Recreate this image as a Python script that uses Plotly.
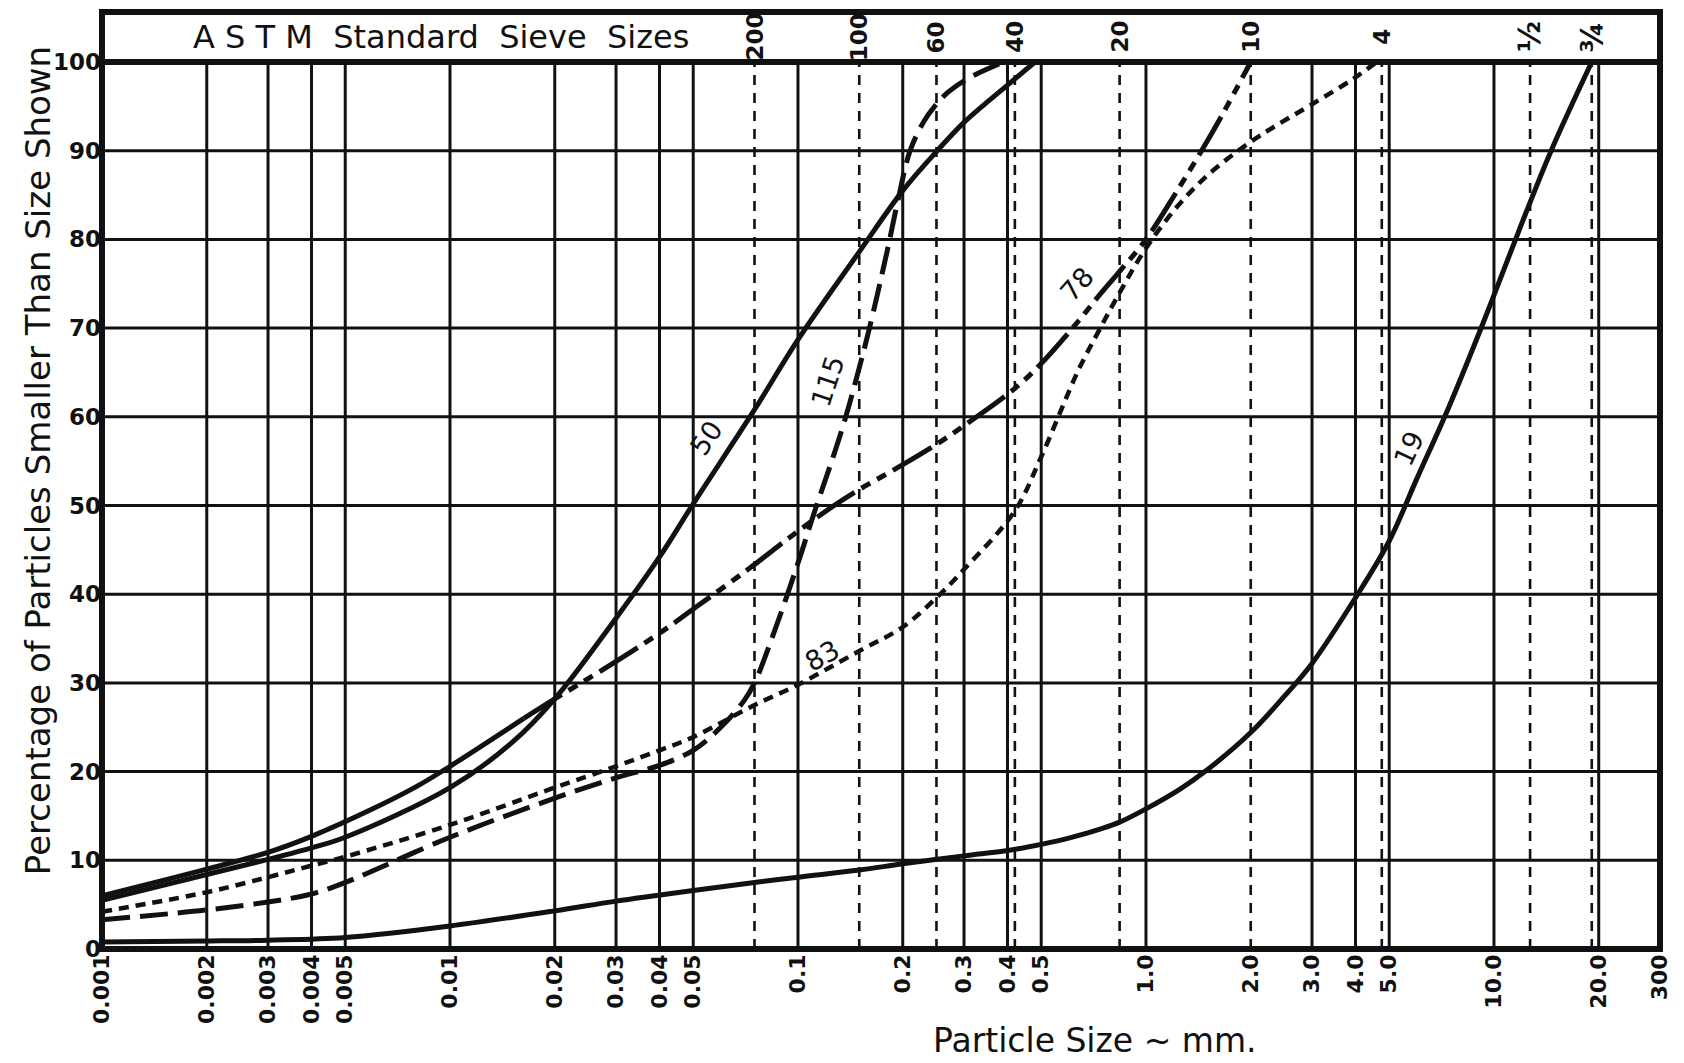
import numpy as np
import plotly.graph_objects as go

# ---------------- data (particle size in mm, percent finer) ----------------
SIZE_19 = [0.001, 0.002, 0.003, 0.005, 0.01, 0.02, 0.03, 0.05, 0.075, 0.1, 0.15, 0.2, 0.3, 0.4, 0.5,
           0.6, 0.75, 0.84, 1.0, 1.25, 1.5, 2.0, 2.5, 3.0, 4.0, 5.0, 6.0, 7.4, 9.4, 11.8, 14.6, 19.1]
PCT_19 = [0.8, 0.9, 1.0, 1.3, 2.6, 4.3, 5.4, 6.6, 7.5, 8.1, 8.9, 9.6, 10.5, 11.1, 11.8,
          12.5, 13.6, 14.3, 15.8, 18.0, 20.2, 24.4, 28.5, 32.2, 39.6, 46.0, 53.0, 61.0, 71.0, 81.0, 90.0, 100]

SIZE_50 = [0.001, 0.002, 0.003, 0.004, 0.005, 0.01, 0.015, 0.02, 0.03, 0.04, 0.05, 0.075, 0.1,
           0.15, 0.2, 0.25, 0.3, 0.4, 0.48]
PCT_50 = [5.5, 8.4, 10.1, 11.4, 12.6, 18.2, 23.2, 28.2, 37.3, 44.2, 50.2, 60.8, 68.7,
          78.6, 85.5, 89.9, 93.2, 97.4, 100]

SIZE_115 = [0.001, 0.002, 0.003, 0.004, 0.005, 0.01, 0.02, 0.03, 0.04, 0.05, 0.06, 0.07, 0.075,
            0.085, 0.1, 0.112, 0.125, 0.136, 0.146, 0.16, 0.18, 0.194, 0.21, 0.23, 0.247, 0.27, 0.31, 0.39]
PCT_115 = [3.3, 4.4, 5.3, 6.2, 7.5, 12.6, 17.0, 19.3, 20.7, 22.4, 25.0, 28.0, 30.0,
           35.5, 43.5, 49.5, 55.0, 59.5, 63.8, 69.8, 78.5, 84.5, 90.0, 93.3, 95.0, 96.6, 98.2, 100]

SIZE_83 = [0.001, 0.002, 0.003, 0.004, 0.005, 0.01, 0.02, 0.03, 0.04, 0.05, 0.075, 0.1, 0.15, 0.2,
           0.25, 0.3, 0.42, 0.5, 0.64, 0.73, 0.84, 1.0, 1.23, 1.53, 2.0, 2.38, 2.96, 3.94, 4.6]
PCT_83 = [4.2, 6.4, 8.1, 9.4, 10.4, 14.0, 18.2, 20.6, 22.4, 23.9, 27.5, 29.8, 33.6, 36.3,
          39.6, 42.8, 49.4, 55.5, 65.3, 69.6, 74, 79, 83.7, 87.5, 91, 92.9, 95.1, 98.1, 100]

SIZE_78 = [0.001, 0.002, 0.003, 0.004, 0.006, 0.008, 0.01, 0.0163, 0.02, 0.027, 0.04, 0.052, 0.073,
           0.0976, 0.127, 0.15, 0.2, 0.25, 0.3, 0.42, 0.5, 0.64, 0.72, 0.84, 1.0, 1.23, 1.47, 1.67, 2.0]
PCT_78 = [6.0, 9.0, 10.9, 12.7, 15.8, 18.3, 20.6, 26.0, 28.2, 31.3, 35.6, 38.8, 43.0,
          46.8, 50.0, 51.8, 54.6, 56.9, 59.0, 63.2, 66.0, 70.8, 73.3, 76.4, 80, 85.5, 90.5, 94.3, 100]
SOLID_END_78 = 8  # first 8 points of curve 78 drawn solid

CURVE_LABELS = ["50", "115", "78", "83", "19"]
LABEL_SIZE = [0.0543, 0.1216, 0.632, 0.1175, 5.70]
LABEL_PCT = [57.6, 64.0, 74.9, 33.1, 56.4]
LABEL_ANGLE = [-56, -72, -48, -29, -65]

GRID_X = [0.002, 0.003, 0.004, 0.005, 0.01, 0.02, 0.03, 0.04, 0.05, 0.1, 0.2, 0.3, 0.4, 0.5,
          1.0, 3.0, 4.0, 5.0, 10.0, 20.0]
GRID_Y = [10, 20, 30, 40, 50, 60, 70, 80, 90]
SIEVE_MM = [0.075, 0.15, 0.25, 0.42, 0.84, 2.0, 4.76, 12.7, 19.1]
SIEVE_LABELS = ["200", "100", "60", "40", "20", "10", "4", "½", "¾"]

X_TICKVALS = [0.001, 0.002, 0.003, 0.004, 0.005, 0.01, 0.02, 0.03, 0.04, 0.05, 0.1, 0.2, 0.3, 0.4,
              0.5, 1.0, 2.0, 3.0, 4.0, 5.0, 10.0, 20.0, 30.0]
X_TICKTEXT = ["0.001", "0.002", "0.003", "0.004", "0.005", "0.01", "0.02", "0.03", "0.04", "0.05",
              "0.1", "0.2", "0.3", "0.4", "0.5", "1.0", "2.0", "3.0", "4.0", "5.0", "10.0", "20.0", "300"]
Y_TICKVALS = [0, 10, 20, 30, 40, 50, 60, 70, 80, 90, 100]

# ---------------- figure ----------------
W, H = 1684, 1063
ML, MR, MT, MB = 102, 20, 62, 114
PLOT_H = H - MT - MB
HEADER_TOP = 1 + (MT - 12) / PLOT_H
FONT = "DejaVu Sans"
INK = "#111111"

fig = go.Figure()

CW = 5
SM = 1.0
fig.add_trace(go.Scatter(x=SIZE_19, y=PCT_19, mode="lines",
                         line=dict(color=INK, width=CW, shape="spline", smoothing=SM)))
fig.add_trace(go.Scatter(x=SIZE_50, y=PCT_50, mode="lines",
                         line=dict(color=INK, width=CW, shape="spline", smoothing=SM)))
fig.add_trace(go.Scatter(x=SIZE_115, y=PCT_115, mode="lines",
                         line=dict(color=INK, width=CW, dash="28px,10px", shape="spline", smoothing=SM)))
fig.add_trace(go.Scatter(x=SIZE_83, y=PCT_83, mode="lines",
                         line=dict(color=INK, width=CW - 0.5, dash="10px,7px", shape="spline", smoothing=SM)))
fig.add_trace(go.Scatter(x=SIZE_78[:SOLID_END_78], y=PCT_78[:SOLID_END_78], mode="lines",
                         line=dict(color=INK, width=CW, shape="spline", smoothing=SM)))
fig.add_trace(go.Scatter(x=SIZE_78[SOLID_END_78 - 1:], y=PCT_78[SOLID_END_78 - 1:], mode="lines",
                         line=dict(color=INK, width=CW, dash="45px,8px,10px,8px,10px,8px",
                                   shape="spline", smoothing=SM)))

shapes = []
for gx in GRID_X:
    shapes.append(dict(type="line", xref="x", yref="y", x0=gx, x1=gx, y0=0, y1=100,
                       line=dict(color=INK, width=3), layer="below"))
for gy in GRID_Y:
    shapes.append(dict(type="line", xref="paper", yref="y", x0=0, x1=1, y0=gy, y1=gy,
                       line=dict(color=INK, width=3), layer="below"))
for sx in SIEVE_MM:
    shapes.append(dict(type="line", xref="x", yref="y", x0=sx, x1=sx, y0=0, y1=100,
                       line=dict(color=INK, width=2.6, dash="10px,8px"), layer="below"))
# frame of plot and header
shapes.append(dict(type="rect", xref="paper", yref="paper", x0=0, x1=1, y0=0, y1=1,
                   line=dict(color=INK, width=6), layer="above"))
shapes.append(dict(type="rect", xref="paper", yref="paper", x0=0, x1=1, y0=1, y1=HEADER_TOP,
                   line=dict(color=INK, width=6), layer="above"))

annotations = []
annotations.append(dict(xref="paper", yref="paper", x=(191 - ML) / (W - ML - MR), y=(1 + HEADER_TOP) / 2,
                        xanchor="left", yanchor="middle", showarrow=False,
                        text="A S T M  Standard  Sieve  Sizes",
                        font=dict(family=FONT, size=32, color=INK)))
for sx, lab in zip(SIEVE_MM, SIEVE_LABELS):
    fsize = 30 if lab in ("½", "¾") else 23
    annotations.append(dict(xref="x", yref="paper", x=np.log10(sx), y=(1 + HEADER_TOP) / 2,
                            xanchor="center", yanchor="middle", showarrow=False, textangle=-90,
                            text=lab, font=dict(family=FONT, size=fsize, color=INK, weight="bold")))
for lab, sx, py, ang in zip(CURVE_LABELS, LABEL_SIZE, LABEL_PCT, LABEL_ANGLE):
    annotations.append(dict(xref="x", yref="y", x=np.log10(sx), y=py, showarrow=False,
                            textangle=ang, text=lab, font=dict(family=FONT, size=27, color=INK)))
annotations.append(dict(xref="paper", yref="paper", x=-(ML - 38) / (W - ML - MR), y=(949 - 461) / PLOT_H,
                        xanchor="center", yanchor="middle", showarrow=False, textangle=-90,
                        text="Percentage of Particles Smaller Than Size Shown",
                        font=dict(family=FONT, size=34, color=INK)))
annotations.append(dict(xref="paper", yref="paper", x=(1098 - ML) / (W - ML - MR), y=-(1040 - 949) / PLOT_H,
                        xanchor="center", yanchor="middle", showarrow=False,
                        text="Particle Size ~ mm.", font=dict(family=FONT, size=33, color=INK)))

fig.update_layout(
    width=W, height=H,
    margin=dict(l=ML, r=MR, t=MT, b=MB, pad=0),
    paper_bgcolor="white", plot_bgcolor="white",
    showlegend=False,
    shapes=shapes, annotations=annotations,
    font=dict(family=FONT, color=INK),
)
fig.update_xaxes(type="log", range=[-3, np.log10(30)], showgrid=False, zeroline=False,
                 showline=False, ticks="", tickvals=X_TICKVALS, ticktext=X_TICKTEXT,
                 tickangle=-90, tickfont=dict(family=FONT, size=22, color=INK, weight="bold"))
fig.update_yaxes(range=[0, 100], showgrid=False, zeroline=False, showline=False, ticks="",
                 tickvals=Y_TICKVALS, tickfont=dict(family=FONT, size=23, color=INK, weight="bold"))

fig.write_html("out.html", config={"displayModeBar": False},
               post_script="document.body.style.margin='0';document.body.style.overflow='hidden';")
